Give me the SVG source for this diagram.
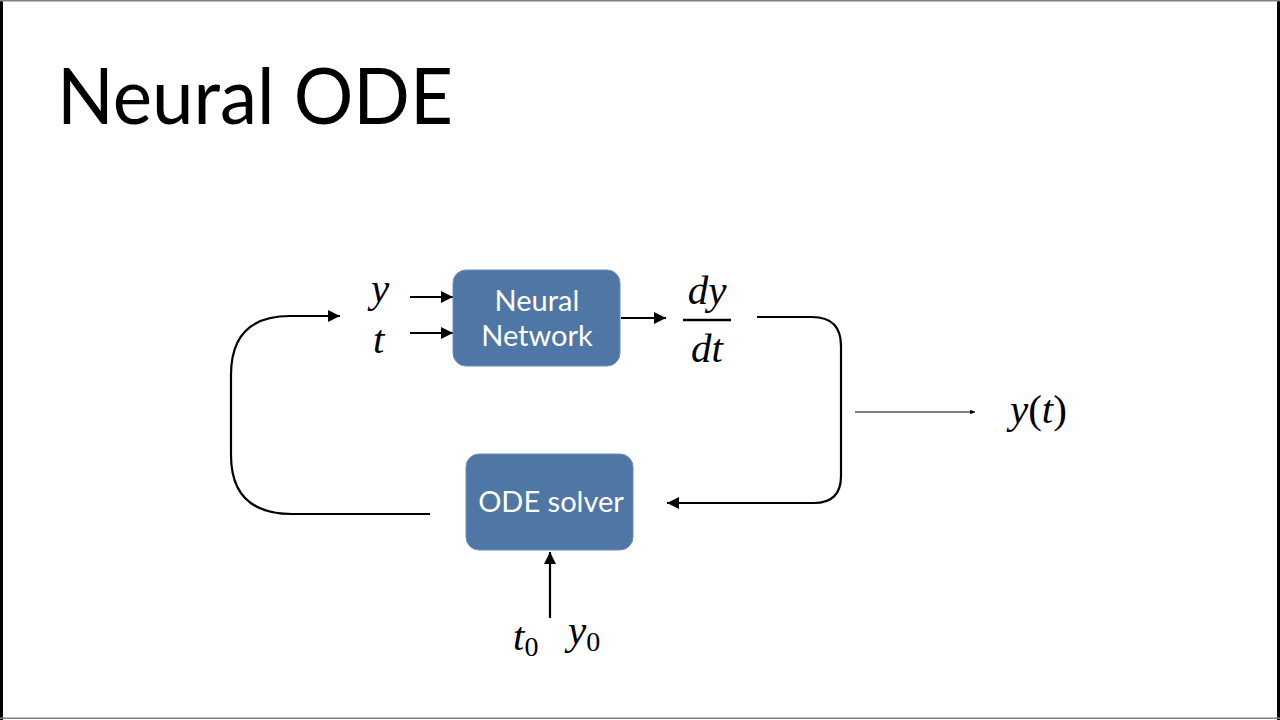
<svg xmlns="http://www.w3.org/2000/svg" width="1280" height="720" viewBox="0 0 1280 720">
<defs>
<style>
.box{fill:#4f77a6;stroke:#6b8fba;stroke-width:1}
.lbl{font-family:Lato,"Open Sans",sans-serif;font-size:29px;fill:#ffffff;text-anchor:middle}
.math{font-family:"Liberation Serif","DejaVu Serif",serif;font-style:italic;font-size:41px;fill:#000}
.sub{font-family:"Liberation Serif","DejaVu Serif",serif;font-style:normal;font-size:28px}
.up{font-style:normal}
.ln{fill:none;stroke:#000;stroke-width:2.2}
.thin{fill:none;stroke:#000;stroke-width:1.2}
</style>
<marker id="ah" viewBox="0 0 10 10" refX="10" refY="5" markerWidth="5.5" markerHeight="5.5" markerUnits="strokeWidth" orient="auto">
<path d="M0,0 L10,5 L0,10 z" fill="#000"/>
</marker>
<marker id="ahs" viewBox="0 0 10 10" refX="10" refY="5" markerWidth="6" markerHeight="4" markerUnits="strokeWidth" orient="auto">
<path d="M0,0 L10,5 L0,10 z" fill="#000"/>
</marker>
</defs>
<rect x="0" y="0" width="1280" height="720" fill="#ffffff"/>
<rect x="0" y="0" width="3" height="720" fill="#000"/>
<rect x="1277" y="0" width="3" height="720" fill="#000"/>
<rect x="0" y="0" width="1280" height="1.5" fill="#808080"/>
<rect x="0" y="717.5" width="1280" height="1.5" fill="#808080"/>

<text x="57" y="124" font-family="Lato,'Open Sans',sans-serif" font-size="78" fill="#000" textLength="396" lengthAdjust="spacingAndGlyphs">Neural ODE</text>

<g id="connectors">
<line class="ln" x1="410" y1="297" x2="453" y2="297" marker-end="url(#ah)"/>
<line class="ln" x1="410" y1="333" x2="453" y2="333" marker-end="url(#ah)"/>
<line class="ln" x1="621" y1="318" x2="666" y2="318" marker-end="url(#ah)"/>
<path class="ln" d="M757,317 L812,317 Q841,317 841,346 L841,476 Q841,503 814,503 L667,503" marker-end="url(#ah)"/>
<line class="thin" x1="855" y1="412" x2="975" y2="412" marker-end="url(#ahs)"/>
<path class="ln" d="M430,514 L292,514 Q231,514 231,455 L231,375 Q231,316 290,316 L340,316" marker-end="url(#ah)"/>
<line class="ln" x1="550" y1="618" x2="550" y2="552" marker-end="url(#ah)"/>
</g>

<g id="neural-network">
<rect class="box" x="453" y="270" width="167" height="96" rx="13"/>
<text class="lbl" x="537" y="311">Neural</text>
<text class="lbl" x="537" y="346">Network</text>
</g>

<g id="ode-solver">
<rect class="box" x="466" y="454" width="167" height="96" rx="13"/>
<text class="lbl" x="551" y="512">ODE solver</text>
</g>

<g id="inputs">
<text class="math" x="371" y="302">y</text>
<text class="math" x="373" y="353">t</text>
</g>

<g id="derivative">
<text class="math" x="707" y="304" text-anchor="middle">dy</text>
<line x1="683" y1="320" x2="731" y2="320" stroke="#000" stroke-width="2.5"/>
<text class="math" x="707" y="362" text-anchor="middle">dt</text>
</g>

<g id="output">
<text class="math" x="1010" y="423">y<tspan class="up">(</tspan>t<tspan class="up">)</tspan></text>
</g>

<g id="initial">
<text class="math" x="513" y="650">t<tspan class="sub" dy="6">0</tspan></text>
<text class="math" x="568" y="644">y<tspan class="sub" dy="7">0</tspan></text>
</g>
</svg>
